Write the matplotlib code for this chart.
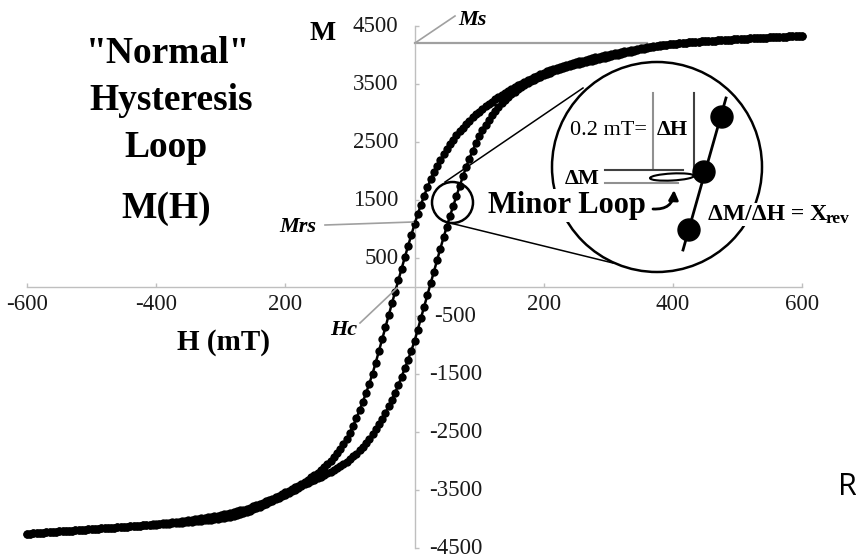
import numpy as np
import matplotlib
matplotlib.use("Agg")
import matplotlib.pyplot as plt
from matplotlib.patches import Circle, Ellipse, FancyArrowPatch

plt.rcParams["font.family"] = ["Liberation Serif", "DejaVu Serif"]

# applied field, mT (one point every 5 mT)
field_mt = np.arange(-600, 601, 5)

# descending-field branch (comes down from +saturation)
desc_m = [
    -4255, -4251, -4247, -4243, -4239, -4235, -4231, -4227, -4223, -4219,
    -4215, -4211, -4207, -4203, -4199, -4195, -4191, -4187, -4183, -4179,
    -4175, -4171, -4167, -4163, -4159, -4155, -4151, -4147, -4143, -4139,
    -4135, -4131, -4127, -4123, -4118, -4113, -4108, -4103, -4098, -4093,
    -4088, -4082, -4076, -4070, -4064, -4058, -4051, -4044, -4037, -4030,
    -4022, -4014, -4006, -3998, -3989, -3980, -3971, -3961, -3951, -3941,
    -3930, -3919, -3907, -3895, -3882, -3868, -3853, -3837, -3820, -3802,
    -3783, -3763, -3742, -3720, -3697, -3673, -3648, -3622, -3595, -3567,
    -3538, -3511, -3483, -3454, -3424, -3392, -3358, -3322, -3284, -3243,
    -3200, -3154, -3104, -3051, -2994, -2932, -2864, -2790, -2708, -2615,
    -2510, -2392, -2262, -2125, -1978, -1828, -1668, -1493, -1303, -1103,
    -898, -693, -488, -284, -82, 118, 316, 512, 705, 895,
    1080, 1255, 1420, 1575, 1720, 1855, 1975, 2085, 2185, 2285,
    2375, 2460, 2540, 2615, 2685, 2750, 2812, 2870, 2925, 2977,
    3025, 3070, 3113, 3155, 3195, 3234, 3271, 3307, 3342, 3376,
    3410, 3443, 3475, 3506, 3536, 3565, 3593, 3620, 3646, 3671,
    3695, 3718, 3740, 3761, 3781, 3800, 3818, 3835, 3851, 3866,
    3880, 3893, 3905, 3919, 3933, 3946, 3959, 3972, 3984, 3996,
    4008, 4020, 4031, 4042, 4053, 4064, 4074, 4084, 4094, 4104,
    4114, 4123, 4132, 4141, 4150, 4158, 4166, 4174, 4180, 4186,
    4192, 4197, 4202, 4207, 4212, 4217, 4222, 4226, 4230, 4234,
    4238, 4242, 4246, 4250, 4254, 4257, 4260, 4264, 4267, 4270,
    4273, 4276, 4279, 4282, 4285, 4288, 4291, 4294, 4297, 4300,
    4303, 4306, 4309, 4312, 4315, 4317, 4320, 4322, 4325, 4327,
    4330,
]

# ascending-field branch (goes up from -saturation)
asc_m = [
    -4255, -4251, -4247, -4243, -4239, -4235, -4231, -4227, -4223, -4219,
    -4215, -4211, -4207, -4203, -4199, -4195, -4191, -4187, -4183, -4179,
    -4175, -4171, -4167, -4163, -4159, -4155, -4151, -4147, -4143, -4139,
    -4135, -4131, -4127, -4123, -4118, -4113, -4109, -4106, -4103, -4100,
    -4097, -4093, -4089, -4085, -4081, -4077, -4072, -4067, -4062, -4057,
    -4052, -4046, -4040, -4034, -4028, -4022, -4016, -4010, -4004, -3997,
    -3989, -3980, -3970, -3958, -3945, -3930, -3913, -3895, -3876, -3855,
    -3833, -3810, -3786, -3762, -3737, -3712, -3686, -3660, -3633, -3606,
    -3578, -3550, -3521, -3492, -3462, -3432, -3402, -3373, -3348, -3323,
    -3297, -3270, -3242, -3213, -3183, -3153, -3121, -3087, -3050, -3010,
    -2967, -2921, -2871, -2816, -2756, -2690, -2618, -2540, -2455, -2362,
    -2268, -2168, -2060, -1945, -1822, -1690, -1550, -1405, -1255, -1100,
    -935, -735, -537, -337, -135, 65, 265, 465, 662, 855,
    1043, 1225, 1400, 1570, 1740, 1910, 2070, 2215, 2350, 2478,
    2597, 2705, 2800, 2887, 2967, 3040, 3107, 3168, 3224, 3276,
    3324, 3368, 3409, 3447, 3482, 3515, 3546, 3575, 3602, 3628,
    3652, 3675, 3697, 3718, 3738, 3757, 3775, 3792, 3808, 3823,
    3837, 3850, 3862, 3875, 3888, 3901, 3914, 3927, 3940, 3953,
    3966, 3979, 3992, 4005, 4018, 4031, 4044, 4057, 4070, 4083,
    4096, 4108, 4120, 4131, 4142, 4152, 4162, 4171, 4180, 4186,
    4192, 4197, 4202, 4207, 4212, 4217, 4222, 4226, 4230, 4234,
    4238, 4242, 4246, 4250, 4254, 4257, 4260, 4264, 4267, 4270,
    4273, 4276, 4279, 4282, 4285, 4288, 4291, 4294, 4297, 4300,
    4303, 4306, 4309, 4312, 4315, 4317, 4320, 4322, 4325, 4327,
    4330,
]

x_ticks = [-600, -400, -200, 200, 400, 600]
x_tick_labels = ["-600", "-400", "200", "200", "400", "600"]
y_ticks = [4500, 3500, 2500, 1500, 500, -500, -1500, -2500, -3500, -4500]

ms_value = 4210     # saturation magnetisation marker line
AXIS_GREY = "#bfbfbf"
POINTER_GREY = "#a0a0a0"

fig = plt.figure(figsize=(8.56, 5.6), dpi=100)

# main chart area: H -600..600 spans px 27..802, M -4500..4500 spans px 548..26
ax = fig.add_axes([27 / 856, 12 / 560, 775 / 856, 522 / 560])
ax.set_xlim(-600, 600)
ax.set_ylim(-4500, 4500)
for side in ["top", "right"]:
    ax.spines[side].set_visible(False)
ax.spines["left"].set_position(("data", 0))
ax.spines["bottom"].set_position(("data", 0))
for side in ["left", "bottom"]:
    ax.spines[side].set_color(AXIS_GREY)
    ax.spines[side].set_linewidth(1.0)
ax.set_xticks(x_ticks)
ax.set_yticks(y_ticks)
ax.set_xticklabels([])
ax.set_yticklabels([])
ax.tick_params(direction="in", length=3, width=1, color=AXIS_GREY)
ax.patch.set_alpha(0)

for lab, v in zip(x_tick_labels, x_ticks):
    ax.annotate(lab, xy=(v, 0), xytext=(0, -17), textcoords="offset pixels",
                ha="center", va="center", fontsize=16.5, color="#1a1a1a")
for v in y_ticks:
    if v > 0:
        ax.annotate(str(v), xy=(0, v), xytext=(-16, 0), textcoords="offset pixels",
                    ha="right", va="center", fontsize=16.5, color="#1a1a1a")
    else:
        ax.annotate(str(v), xy=(0, v), xytext=(41, 0), textcoords="offset pixels",
                    ha="center", va="center", fontsize=16.5, color="#1a1a1a")

# Ms reference line
ax.plot([0, 360], [ms_value, ms_value], color=POINTER_GREY, lw=1.6, zorder=1)

for m in (desc_m, asc_m):
    ax.plot(field_mt, m, "-o", color="black", lw=1.8, ms=6,
            markeredgewidth=0, clip_on=False, zorder=3)

# overlay in pixel coordinates for the annotation drawing
ann = fig.add_axes([0, 0, 1, 1])
ann.set_xlim(0, 856)
ann.set_ylim(560, 0)
ann.axis("off")
ann.patch.set_alpha(0)

bold = dict(fontweight="bold", color="black")
for txt, x, y in [('"Normal"', 168, 63), ("Hysteresis", 171, 110),
                  ("Loop", 166, 157), ("M(H)", 166, 218)]:
    ann.text(x, y, txt, fontsize=27, ha="center", va="baseline", **bold)
ann.text(323, 40, "M", fontsize=20, ha="center", va="baseline", **bold)
ann.text(224, 350, "H (mT)", fontsize=21, ha="center", va="baseline", **bold)

# Ms / Mrs / Hc pointers
ann.plot([415, 455], [43, 16], color=POINTER_GREY, lw=1.2)
ann.text(458, 25, "Ms", fontsize=16, style="italic", ha="left", va="baseline", **bold)
ann.plot([325, 413], [225, 222], color=POINTER_GREY, lw=1.2)
ann.text(298, 232, "Mrs", fontsize=16, style="italic", ha="center", va="baseline", **bold)
ann.plot([360, 397], [323, 288], color=POINTER_GREY, lw=1.2)
ann.text(344, 335, "Hc", fontsize=16, style="italic", ha="center", va="baseline", **bold)

# magnifier: small circle on the loop, big circle with the minor-loop sketch
ann.add_patch(Circle((452.5, 202.5), 20.5, fill=False, lw=1.8, color="black", zorder=4))
ann.add_patch(Circle((657, 167), 105, fill=False, lw=1.8, color="black", zorder=4))
ann.plot([445, 583], [182, 88], color="black", lw=1.1, zorder=4)
ann.plot([450, 613], [223, 263], color="black", lw=1.1, zorder=4)

ann.plot([653, 653], [93, 168], color="#909090", lw=1.5, zorder=5)
ann.plot([694, 694], [93, 170], color="#404040", lw=1.5, zorder=5)
ann.plot([605, 683], [170, 170], color="#404040", lw=1.5, zorder=5)
ann.plot([605, 678], [183, 183], color="#909090", lw=1.5, zorder=5)
ann.add_patch(Ellipse((672, 177), 44, 7, angle=-3, fill=False, lw=1.5,
                      color="black", zorder=5))
ann.plot([726, 683], [98, 250], color="black", lw=2, zorder=5)
for cx, cy in [(722, 117), (704, 172), (689, 230)]:
    ann.add_patch(Circle((cx, cy), 11, color="black", zorder=6))
ann.add_patch(FancyArrowPatch((653, 209), (674, 190), connectionstyle="arc3,rad=0.5",
                              arrowstyle="-|>", mutation_scale=14, lw=2,
                              shrinkA=0, shrinkB=0, color="black", zorder=6))

ann.text(570, 135, "0.2 mT=", fontsize=16, ha="left", va="baseline", color="black", zorder=6)
ann.text(657, 135, "ΔH", fontsize=16, ha="left", va="baseline", zorder=6, **bold)
ann.text(565, 184, "ΔM", fontsize=16, ha="left", va="baseline", zorder=6, **bold)
ann.text(567, 213, "Minor Loop", fontsize=22, ha="center", va="baseline", zorder=7,
         bbox=dict(facecolor="white", edgecolor="none", pad=1), **bold)
ann.text(708, 220, "ΔM/ΔH = X", fontsize=17, ha="left", va="baseline", zorder=7,
         bbox=dict(facecolor="white", edgecolor="none", pad=1), **bold)
ann.text(826, 223, "rev", fontsize=12.5, ha="left", va="baseline", zorder=7, **bold)

ann.text(838, 495, "R", fontsize=22, ha="left", va="baseline",
         family=["Open Sans", "DejaVu Sans"], color="black")

fig.savefig("out.png", dpi=100)
